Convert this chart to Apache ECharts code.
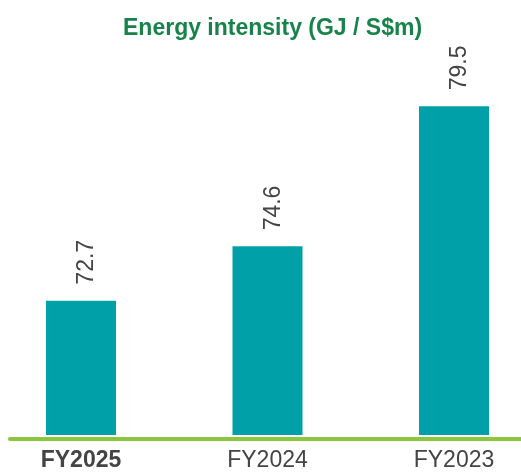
<!DOCTYPE html>
<html>
<head>
<meta charset="utf-8">
<script src="https://cdn.jsdelivr.net/npm/echarts@6/dist/echarts.min.js"></script>
<style>html,body{margin:0;padding:0;background:#fff}#c{width:521px;height:472px}</style>
</head>
<body>
<div id="c"></div>
<script>
var categories = ['FY2025', 'FY2024', 'FY2023'];
var values = [72.7, 74.6, 79.5];
var boldCategory = 'FY2025';
var titleText = 'Energy intensity (GJ / S$m)';

var FONT = '"Liberation Sans", Arial, Helvetica, sans-serif';
var chart = echarts.init(document.getElementById('c'), null, {renderer: 'canvas'});
var option = {
  backgroundColor: '#ffffff',
  animation: false,
  title: {
    text: titleText,
    left: 118,
    top: 12,
    textStyle: {color: '#17834A', fontFamily: FONT, fontWeight: 'bold', fontSize: 23}
  },
  grid: [
    {left: 81, right: 67, top: 92, bottom: 33, containLabel: false},
    {left: 10, right: 0, top: 92, bottom: 33, containLabel: false}
  ],
  xAxis: [
    {
      type: 'category', gridIndex: 0, boundaryGap: false,
      data: categories.map(function (c) {
        return {value: c, textStyle: {fontWeight: c === boldCategory ? 'bold' : 'normal'}};
      }),
      axisLine: {show: false}, axisTick: {show: false},
      axisLabel: {color: '#444444', fontFamily: FONT, fontSize: 23, margin: 14}
    },
    {
      type: 'category', gridIndex: 1, data: [],
      axisLine: {show: true, lineStyle: {color: '#8CC63F', width: 4, cap: 'round'}},
      axisTick: {show: false}, axisLabel: {show: false}
    }
  ],
  yAxis: [
    {type: 'value', gridIndex: 0, min: 68, max: 80, show: false, splitLine: {show: false}},
    {type: 'value', gridIndex: 1, min: 68, max: 80, show: false, splitLine: {show: false}}
  ],
  series: [{
    type: 'bar',
    xAxisIndex: 0, yAxisIndex: 0,
    data: values,
    barWidth: 70,
    itemStyle: {color: '#00A0A9'},
    label: {
      show: true,
      position: 'top',
      rotate: 90,
      align: 'left',
      verticalAlign: 'middle',
      distance: 16,
      offset: [0, 6],
      color: '#444444',
      fontFamily: FONT,
      fontSize: 23,
      formatter: function (p) { return p.value.toFixed(1); }
    }
  }]
};
chart.setOption(option);
</script>
</body>
</html>
